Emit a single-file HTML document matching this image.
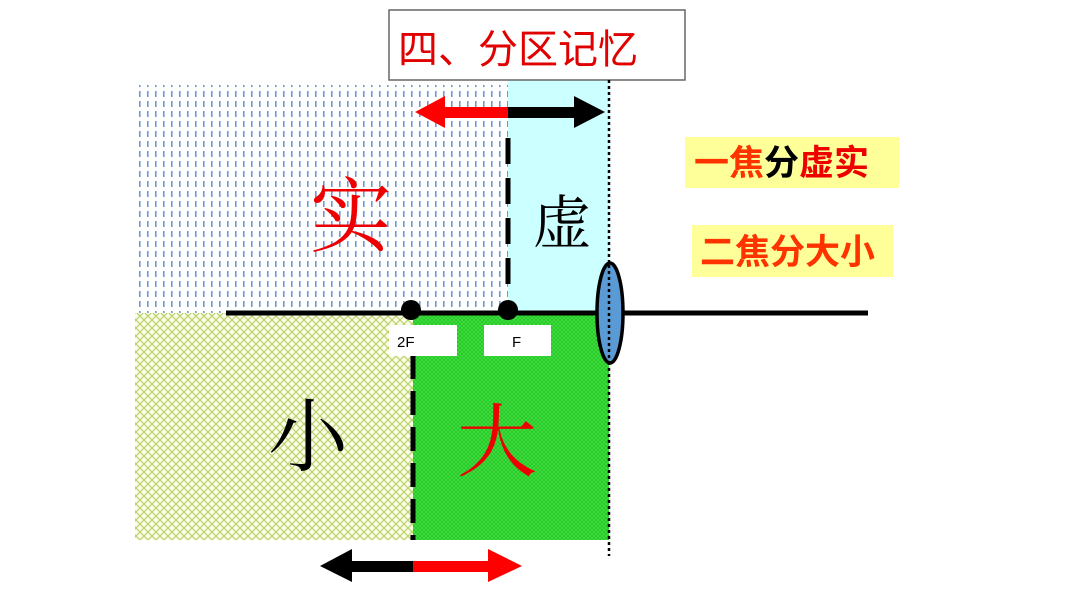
<!DOCTYPE html>
<html><head><meta charset="utf-8"><style>
html,body{margin:0;padding:0;background:#fff;}
svg{display:block;}
</style></head><body>
<svg width="1066" height="600" viewBox="0 0 1066 600" xmlns="http://www.w3.org/2000/svg">
<defs>
<pattern id="dash" width="8" height="10" patternUnits="userSpaceOnUse">
<rect width="8" height="10" fill="#fff"/>
<rect x="3" y="1" width="1.6" height="6" fill="#6d9ad6"/>
</pattern>
<pattern id="hatch" width="8" height="8" patternUnits="userSpaceOnUse">
<rect width="8" height="8" fill="#fbfbe8"/>
<path d="M0 0L8 8M8 0L0 8" stroke="#b8d36a" stroke-width="1.2"/>
</pattern>
<pattern id="green" width="4" height="4" patternUnits="userSpaceOnUse">
<rect width="4" height="4" fill="#3fe03f"/>
<path d="M0 0L4 4M4 0L0 4" stroke="#22c022" stroke-width="0.7"/>
</pattern>
</defs>
<rect x="135" y="85" width="373" height="228" fill="url(#dash)"/>
<rect x="508" y="80" width="101" height="233" fill="#ccffff"/>
<rect x="135" y="313" width="278" height="227" fill="url(#hatch)"/>
<rect x="413" y="313" width="196" height="227" fill="url(#green)"/>
<rect x="389" y="10" width="296" height="70" fill="#fff" stroke="#666" stroke-width="1.5"/>
<text x="398" y="63" font-family="Liberation Sans,'Noto Sans CJK SC',sans-serif" font-size="40" fill="#e00000">四、分区记忆</text>
<line x1="508" y1="138" x2="508" y2="296" stroke="#000" stroke-width="5" stroke-dasharray="26,14"/>
<line x1="413" y1="355" x2="413" y2="540" stroke="#000" stroke-width="5" stroke-dasharray="24,12"/>
<line x1="609" y1="80" x2="609" y2="556" stroke="#000" stroke-width="2.5" stroke-dasharray="3,3"/>
<line x1="226" y1="313" x2="868" y2="313" stroke="#000" stroke-width="5"/>
<ellipse cx="610" cy="313" rx="13" ry="50" fill="#5b9bd5" stroke="#000" stroke-width="3.5"/>
<line x1="609" y1="265" x2="609" y2="362" stroke="#000" stroke-width="2.5" stroke-dasharray="3,3"/>
<circle cx="411" cy="310" r="10" fill="#000"/>
<circle cx="508" cy="310" r="10" fill="#000"/>
<rect x="389" y="325" width="68" height="31" fill="#fff"/>
<rect x="484" y="325" width="67" height="31" fill="#fff"/>
<text x="397" y="347" font-family="Liberation Sans,sans-serif" font-size="15" fill="#000">2F</text>
<text x="512" y="347" font-family="Liberation Sans,sans-serif" font-size="15" fill="#000">F</text>
<rect x="444" y="107" width="64" height="11" fill="#ff0000"/>
<polygon points="445,96 415,112 445,128" fill="#ff0000"/>
<rect x="508" y="107" width="68" height="11" fill="#000"/>
<polygon points="574,96 605,112 574,128" fill="#000"/>
<rect x="350" y="561" width="64" height="11" fill="#000"/>
<polygon points="352,549 320,566 352,582" fill="#000"/>
<rect x="413" y="561" width="78" height="11" fill="#ff0000"/>
<polygon points="488,549 522,566 488,582" fill="#ff0000"/>
<text x="310" y="245" font-family="'Noto Serif CJK SC',serif" font-size="82" fill="#ee0000">实</text>
<text x="533" y="243" font-family="'Noto Serif CJK SC',serif" font-size="58" fill="#000">虚</text>
<text x="268" y="465" font-family="'Noto Serif CJK SC',serif" font-size="80" fill="#000">小</text>
<text x="457" y="470" font-family="'Noto Serif CJK SC',serif" font-size="80" fill="#ee0000">大</text>
<rect x="685" y="137" width="214" height="51" fill="#ffff99"/>
<text x="694" y="175" font-family="'Noto Sans CJK SC',sans-serif" font-weight="bold" font-size="35"><tspan fill="#ff3300">一焦</tspan><tspan fill="#000">分</tspan><tspan fill="#ee0000">虚实</tspan></text>
<rect x="692" y="225" width="201" height="52" fill="#ffff99"/>
<text x="700" y="264" font-family="'Noto Sans CJK SC',sans-serif" font-weight="bold" font-size="35" fill="#ff3300">二焦分大小</text>
</svg>
</body></html>
